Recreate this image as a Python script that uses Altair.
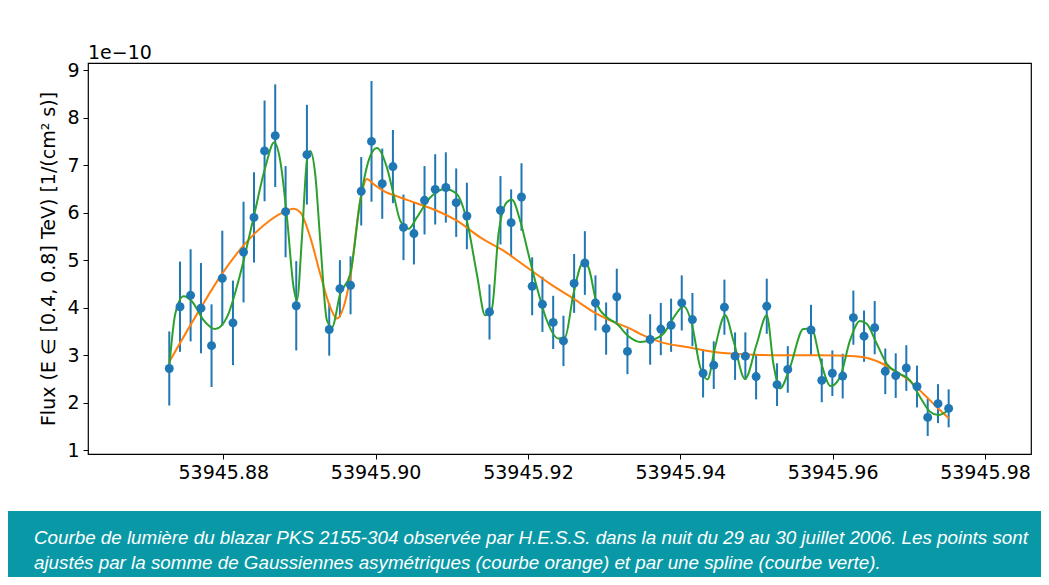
import altair as alt
import pandas as pd

# ---- observed light-curve points (MJD, flux in 1e-10 /cm2/s, 1-sigma error) ----
t_obs = [53945.87291, 53945.87432, 53945.87571, 53945.87707, 53945.87846, 53945.87987,
         53945.88127, 53945.88266, 53945.88403, 53945.88542, 53945.88682, 53945.88818,
         53945.88958, 53945.89098, 53945.89391, 53945.89531, 53945.89671, 53945.89811,
         53945.89946, 53945.90087, 53945.90227, 53945.90366, 53945.90503, 53945.90642,
         53945.90782, 53945.90922, 53945.91058, 53945.91198, 53945.91495, 53945.91639,
         53945.91779, 53945.91915, 53945.92055, 53945.92190, 53945.92331, 53945.92466,
         53945.92606, 53945.92747, 53945.92886, 53945.93026, 53945.93166, 53945.93306,
         53945.93604, 53945.93744, 53945.93879, 53945.94019, 53945.94159, 53945.94299,
         53945.94439, 53945.94579, 53945.94719, 53945.94854, 53945.94995, 53945.95135,
         53945.95270, 53945.95411, 53945.95716, 53945.95857, 53945.95996, 53945.96132,
         53945.96272, 53945.96412, 53945.96552, 53945.96691, 53945.96828, 53945.96967,
         53945.97107, 53945.97248, 53945.97383, 53945.97523]
flux_obs = [2.72, 4.02, 4.26, 3.99, 3.20, 4.62, 3.68, 5.17, 5.90, 7.30, 7.62, 6.02,
            4.04, 7.22, 3.54, 4.40, 4.47, 6.45, 7.50, 6.61, 6.97, 5.69, 5.56, 6.26,
            6.49, 6.53, 6.21, 5.93, 3.91, 6.05, 5.79, 6.33, 4.45, 4.07, 3.69, 3.30,
            4.51, 4.94, 4.10, 3.56, 4.23, 3.08, 3.33, 3.55, 3.63, 4.10, 3.75, 2.62,
            2.79, 4.01, 2.98, 2.98, 2.55, 4.03, 2.38, 2.70, 3.53, 2.47, 2.62, 2.56,
            3.79, 3.40, 3.58, 2.66, 2.57, 2.73, 2.34, 1.69, 1.98, 1.88]
err_obs = [0.78, 0.95, 0.97, 0.95, 0.87, 1.00, 0.89, 1.06, 0.95, 1.06, 1.08, 0.96,
           0.94, 1.05, 0.55, 0.60, 0.61, 0.72, 1.27, 0.74, 0.77, 0.69, 0.65, 0.72,
           0.74, 0.74, 0.72, 0.70, 0.58, 0.72, 0.70, 0.71, 0.61, 0.58, 0.56, 0.53,
           0.62, 0.67, 0.58, 0.55, 0.59, 0.48, 0.53, 0.55, 0.56, 0.58, 0.56, 0.51,
           0.50, 0.58, 0.50, 0.50, 0.48, 0.58, 0.45, 0.49, 0.53, 0.46, 0.48, 0.47,
           0.57, 0.54, 0.56, 0.48, 0.47, 0.48, 0.44, 0.39, 0.41, 0.40]

# ---- sum of asymmetric Gaussians (orange) ----
t_gauss = [53945.87291, 53945.87698, 53945.87983, 53945.88266, 53945.88529, 53945.88791,
           53945.88923, 53945.89010, 53945.89142, 53945.89273, 53945.89404, 53945.89492,
           53945.89579, 53945.89667, 53945.89798, 53945.89886, 53945.89972, 53945.90104,
           53945.90323, 53945.90497, 53945.90804, 53945.91067, 53945.91373, 53945.91678,
           53945.91985, 53945.92291, 53945.92597, 53945.92904, 53945.93122, 53945.93341,
           53945.93472, 53945.93735, 53945.94085, 53945.94522, 53945.94959, 53945.95397,
           53945.95834, 53945.96300, 53945.96480, 53945.96640, 53945.96800, 53945.96972,
           53945.97190, 53945.97366, 53945.97527]
f_gauss = [2.86, 3.98, 4.71, 5.31, 5.73, 6.01, 6.08, 6.01, 5.48, 4.71, 4.01, 3.77,
           4.01, 4.64, 6.25, 6.71, 6.60, 6.46, 6.32, 6.22, 6.04, 5.83, 5.48, 5.20,
           4.85, 4.50, 4.19, 3.87, 3.70, 3.56, 3.45, 3.28, 3.17, 3.05, 3.01, 3.00,
           3.00, 2.98, 2.93, 2.83, 2.68, 2.51, 2.19, 1.91, 1.67]

# ---- spline (green) ----
t_spline = [53945.87291, 53945.87370, 53945.87479, 53945.87589, 53945.87741, 53945.87895,
            53945.88049, 53945.88223, 53945.88398, 53945.88551, 53945.88669, 53945.88748,
            53945.88836, 53945.88923, 53945.88967, 53945.89033, 53945.89098, 53945.89142,
            53945.89207, 53945.89273, 53945.89361, 53945.89427, 53945.89535, 53945.89667,
            53945.89798, 53945.89907, 53945.90017, 53945.90148, 53945.90235, 53945.90323,
            53945.90432, 53945.90542, 53945.90717, 53945.90913, 53945.91067, 53945.91198,
            53945.91329, 53945.91438, 53945.91526, 53945.91613, 53945.91723, 53945.91789,
            53945.91898, 53945.92006, 53945.92117, 53945.92248, 53945.92400, 53945.92488,
            53945.92597, 53945.92728, 53945.92794, 53945.92904, 53945.93035, 53945.93167,
            53945.93319, 53945.93472, 53945.93604, 53945.93778, 53945.93932, 53945.94041,
            53945.94151, 53945.94260, 53945.94356, 53945.94457, 53945.94588, 53945.94697,
            53945.94850, 53945.95004, 53945.95135, 53945.95222, 53945.95310, 53945.95441,
            53945.95615, 53945.95723, 53945.95834, 53945.95975, 53945.96097, 53945.96228,
            53945.96359, 53945.96447, 53945.96579, 53945.96710, 53945.96884, 53945.97016,
            53945.97147, 53945.97278, 53945.97387, 53945.97518]
f_spline = [2.75, 3.87, 4.24, 4.13, 3.74, 3.55, 3.80, 4.71, 5.90, 6.95, 7.48, 7.09,
            5.90, 4.43, 4.15, 5.48, 7.09, 7.30, 6.81, 5.41, 3.73, 3.59, 4.29, 4.71,
            6.25, 7.09, 7.36, 6.95, 6.39, 5.83, 5.66, 5.90, 6.32, 6.50, 6.39, 5.83,
            4.71, 3.84, 3.98, 5.55, 6.22, 6.27, 5.83, 5.13, 4.43, 3.73, 3.35, 3.38,
            4.29, 4.96, 4.85, 4.08, 3.80, 3.66, 3.40, 3.28, 3.31, 3.45, 3.84, 4.03,
            3.66, 2.75, 2.49, 3.17, 3.84, 3.31, 2.50, 3.24, 3.84, 2.82, 2.30, 2.75,
            3.55, 3.56, 2.92, 2.35, 2.54, 3.31, 3.72, 3.66, 3.24, 2.82, 2.61, 2.47,
            2.12, 1.81, 1.74, 1.84]

x_ticks = [53945.88, 53945.90, 53945.92, 53945.94, 53945.96, 53945.98]
y_ticks = [1, 2, 3, 4, 5, 6, 7, 8, 9]
y_title = "Flux (E \u2208 [0.4, 0.8] TeV)   [1/(cm\u00b2 s)]"
caption = [
    "Courbe de lumière du blazar PKS 2155-304 observée par H.E.S.S. dans la nuit du 29 au 30 juillet 2006. Les points sont",
    "ajustés par la somme de Gaussiennes asymétriques (courbe orange) et par une spline (courbe verte).",
]

pts = pd.DataFrame({"t": t_obs, "f": flux_obs, "e": err_obs})
pts["lo"] = pts["f"] - pts["e"]
pts["hi"] = pts["f"] + pts["e"]
gauss = pd.DataFrame({"t": t_gauss, "f": f_gauss})
spline = pd.DataFrame({"t": t_spline, "f": f_spline})

W, H = 943, 391
PL, PT, PR, PB = 80, 55, 10, 123
FONT = "DejaVu Sans"

xs = alt.Scale(domain=[53945.86224, 53945.98604], nice=False, zero=False)
ys = alt.Scale(domain=[0.92, 9.15], nice=False, zero=False)

x_axis = alt.Axis(values=x_ticks, format=".2f", title=None, grid=False, domain=False,
                  tickColor="black", tickSize=5, labelPadding=4, labelFontSize=19,
                  labelFont=FONT, labelColor="black", labelFlush=False)
y_axis = alt.Axis(values=y_ticks, format="d", title=y_title, grid=False, domain=False,
                  tickColor="black", tickSize=5, labelPadding=4, labelFontSize=19,
                  labelFont=FONT, labelColor="black", titleFont=FONT, titleFontSize=19,
                  titleFontWeight="normal", titleColor="black", titlePadding=8)

blue = "#1f77b4"

bars = alt.Chart(pts).mark_rule(color=blue, strokeWidth=2).encode(
    x=alt.X("t:Q", scale=xs, axis=x_axis),
    y=alt.Y("lo:Q", scale=ys, axis=y_axis),
    y2="hi:Q",
)
dots = alt.Chart(pts).mark_circle(color=blue, size=80, opacity=1).encode(
    x=alt.X("t:Q", scale=xs), y=alt.Y("f:Q", scale=ys)
)
orange = alt.Chart(gauss).mark_line(color="#ff7f0e", strokeWidth=2, interpolate="monotone").encode(
    x=alt.X("t:Q", scale=xs), y=alt.Y("f:Q", scale=ys)
)
green = alt.Chart(spline).mark_line(color="#2ca02c", strokeWidth=2, interpolate="monotone").encode(
    x=alt.X("t:Q", scale=xs), y=alt.Y("f:Q", scale=ys)
)

offset_text = alt.Chart(pd.DataFrame({"s": ["1e\u221210"]})).mark_text(
    align="left", baseline="alphabetic", font=FONT, fontSize=19, color="black"
).encode(x=alt.value(0), y=alt.value(-4), text="s:N")

teal_box = alt.Chart(pd.DataFrame({"k": [0]})).mark_rect(color="#0999a6").encode(
    x=alt.value(-PL), x2=alt.value(W + PR), y=alt.value(448), y2=alt.value(H + PB)
)
cap1 = alt.Chart(pd.DataFrame({"s": [caption[0]]})).mark_text(
    align="left", baseline="alphabetic", font="Liberation Sans", fontStyle="italic",
    fontSize=18.8, color="white"
).encode(x=alt.value(-54), y=alt.value(481), text="s:N")
cap2 = alt.Chart(pd.DataFrame({"s": [caption[1]]})).mark_text(
    align="left", baseline="alphabetic", font="Liberation Sans", fontStyle="italic",
    fontSize=18.8, color="white"
).encode(x=alt.value(-54), y=alt.value(506), text="s:N")

chart = alt.layer(teal_box, bars, orange, green, dots, offset_text, cap1, cap2).properties(
    width=W, height=H,
    autosize=alt.AutoSizeParams(type="none"),
    padding={"left": PL, "top": PT, "right": PR, "bottom": PB},
    background="white",
).configure_view(stroke="black", strokeWidth=1.2)

chart.save("out.html", embed_options={"renderer": "svg", "actions": False})
